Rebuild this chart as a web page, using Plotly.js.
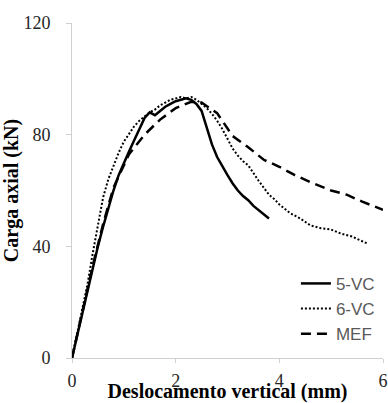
<!DOCTYPE html>
<html>
<head>
<meta charset="utf-8">
<script src="https://cdn.plot.ly/plotly-3.0.1.min.js"></script>
<style>html,body{margin:0;padding:0;background:#fff;}#chart{width:388px;height:403px;}</style>
</head>
<body>
<div id="chart"></div>
<script>
// 5-VC (solid)
const x5VC = [0, 0.1, 0.2, 0.3, 0.4, 0.5, 0.6, 0.7, 0.8, 0.9, 1.0, 1.1, 1.2, 1.3, 1.4, 1.5, 1.6, 1.7, 1.8, 1.9, 2.0, 2.1, 2.2, 2.3, 2.4, 2.5, 2.6, 2.7, 2.8, 2.9, 3.0, 3.1, 3.2, 3.3, 3.4, 3.5, 3.6, 3.7, 3.8];
const y5VC = [0, 8, 16, 24.5, 33, 40, 47, 54, 60, 65.5, 70, 74, 78, 82, 86, 88, 87, 88.5, 90, 91, 92, 92.5, 93, 92.5, 91, 88.5, 82.5, 76.5, 72, 68.5, 65.5, 62.5, 60, 58, 56.5, 54.5, 53, 51.5, 50];
// 6-VC (dotted)
const x6VC = [0, 0.1, 0.2, 0.3, 0.4, 0.5, 0.6, 0.7, 0.8, 0.9, 1.0, 1.1, 1.2, 1.3, 1.4, 1.5, 1.6, 1.7, 1.8, 1.9, 2.0, 2.1, 2.2, 2.3, 2.4, 2.5, 2.6, 2.7, 2.8, 2.9, 3.0, 3.1, 3.2, 3.3, 3.4, 3.5, 3.6, 3.7, 3.8, 3.9, 4.0, 4.2, 4.4, 4.6, 4.8, 5.0, 5.2, 5.4, 5.6, 5.7];
const y6VC = [0, 8.5, 17, 26.5, 37.5, 48, 57.5, 64, 69, 73.5, 77.5, 80.5, 83, 85, 86.5, 88, 89, 90.5, 91.5, 92.5, 93, 93.5, 93, 93.5, 92.5, 91, 89.5, 87.5, 85, 82, 78.5, 75, 72.5, 70.5, 69, 66, 63.5, 61, 58.5, 57, 55, 52, 50, 47.5, 46.5, 46, 44.5, 43.5, 42, 41];
// MEF (dashed)
const xMEF = [0, 0.2, 0.4, 0.6, 0.8, 1.1, 1.4, 1.7, 2.0, 2.3, 2.5, 2.8, 3.1, 3.4, 3.7, 4.0, 4.3, 4.6, 5.0, 5.3, 5.6, 6.0];
const yMEF = [0, 16.5, 33, 48, 61, 73, 80, 85.4, 89.5, 91.8, 91.5, 87.7, 79.5, 75.5, 71, 68.5, 65.5, 63, 60, 58.5, 56, 53.1];

const xTicks = [0, 2, 4, 6];
const yTicks = [0, 40, 80, 120];
const seriesNames = ['5-VC', '6-VC', 'MEF'];

const traces = [
  {x: x5VC, y: y5VC, name: seriesNames[0], mode: 'lines', line: {color: '#000', width: 2.5}},
  {x: x6VC, y: y6VC, name: seriesNames[1], mode: 'lines', line: {color: '#000', width: 2, dash: '2px,2px'}},
  {x: xMEF, y: yMEF, name: seriesNames[2], mode: 'lines', line: {color: '#000', width: 2.5, dash: '10px,6px'}}
];

const tickFont = {family: 'Liberation Serif, serif', size: 18, color: '#262626'};
const titleFont = {family: 'Liberation Serif, serif', size: 20, color: '#000', weight: 'bold'};

const layout = {
  width: 388, height: 403,
  margin: {l: 72, r: 5, t: 23, b: 45},
  paper_bgcolor: '#fff', plot_bgcolor: '#fff',
  showlegend: true,
  legend: {x: 0.72, y: 0.275, xanchor: 'left', yanchor: 'top', bgcolor: 'rgba(0,0,0,0)',
           font: {family: 'Liberation Sans, Arial, sans-serif', size: 17, color: '#595959'}, tracegroupgap: 0},
  xaxis: {
    range: [0, 6], tickvals: xTicks, ticktext: xTicks.map(String),
    showgrid: false, zeroline: false, showline: true, linecolor: '#d0d0d0', linewidth: 1,
    ticks: 'outside', ticklen: 4, tickcolor: '#d0d0d0', tickfont: tickFont, ticklabelstandoff: 2,
    title: {text: 'Deslocamento vertical (mm)', font: titleFont, standoff: 0}
  },
  yaxis: {
    range: [0, 120], tickvals: yTicks, ticktext: yTicks.map(String),
    showgrid: false, zeroline: false, showline: true, linecolor: '#d0d0d0', linewidth: 1,
    ticks: 'outside', ticklen: 5, tickcolor: '#d0d0d0', tickfont: tickFont, ticklabelstandoff: 12,
    title: {text: 'Carga axial (kN)', font: titleFont, standoff: 0}
  }
};

Plotly.newPlot('chart', traces, layout, {displayModeBar: false, staticPlot: true});
</script>
</body>
</html>
